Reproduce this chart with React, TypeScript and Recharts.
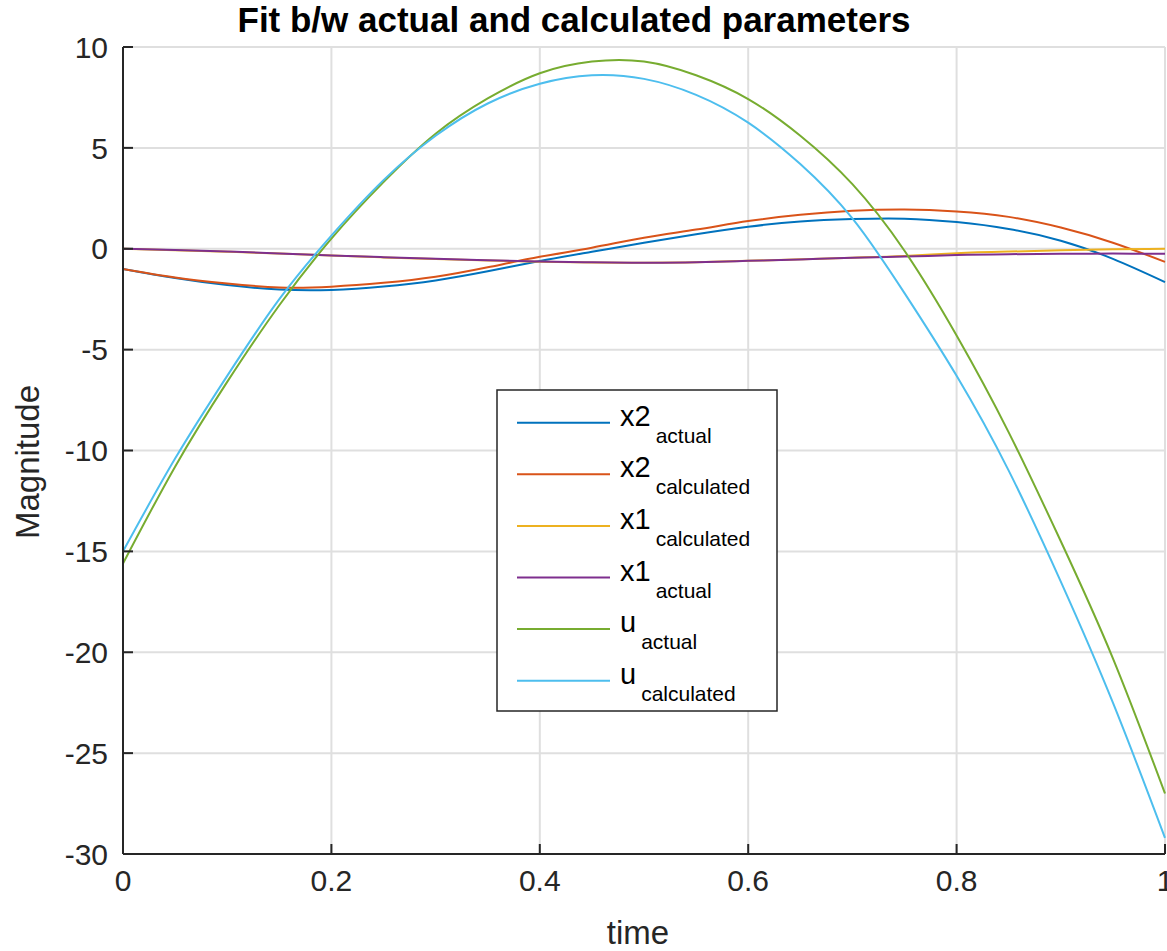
import React from 'react';
import { LineChart, Line, XAxis, YAxis, CartesianGrid } from 'recharts';

const time = [0, 0.05, 0.1, 0.15, 0.2, 0.25, 0.3, 0.35, 0.4, 0.45, 0.5, 0.55, 0.6, 0.65, 0.7, 0.75, 0.8, 0.85, 0.9, 0.95, 1];

const x2Actual = [-1.0, -1.45, -1.8, -2.02, -2.04, -1.87, -1.57, -1.12, -0.61, -0.15, 0.3, 0.72, 1.09, 1.35, 1.47, 1.49, 1.32, 0.98, 0.4, -0.5, -1.65];
const x2Calculated = [-1.0, -1.42, -1.72, -1.92, -1.88, -1.69, -1.39, -0.92, -0.4, 0.05, 0.55, 0.95, 1.37, 1.68, 1.88, 1.95, 1.85, 1.58, 1.05, 0.3, -0.65];
const x1Calculated = [0, -0.07, -0.15, -0.24, -0.34, -0.43, -0.51, -0.58, -0.64, -0.68, -0.69, -0.67, -0.6, -0.52, -0.44, -0.36, -0.22, -0.14, -0.08, -0.03, 0.0];
const x1Actual = [0, -0.06, -0.14, -0.23, -0.33, -0.42, -0.5, -0.57, -0.63, -0.67, -0.69, -0.67, -0.6, -0.53, -0.45, -0.39, -0.31, -0.27, -0.25, -0.24, -0.25];
const uActual = [-15.6, -10.8, -6.6, -2.8, 0.5, 3.3, 5.7, 7.45, 8.7, 9.28, 9.28, 8.6, 7.42, 5.6, 3.2, -0.1, -4.3, -9.1, -14.5, -20.3, -27.0];
const uCalculated = [-15.0, -10.4, -6.3, -2.5, 0.65, 3.4, 5.6, 7.2, 8.18, 8.6, 8.42, 7.63, 6.25, 4.2, 1.5, -2.2, -6.3, -11.0, -16.5, -22.5, -29.2];

const xTicks = [0, 0.2, 0.4, 0.6, 0.8, 1];
const yTicks = [-30, -25, -20, -15, -10, -5, 0, 5, 10];

const series = [
  { key: 'x2Actual', base: 'x2', sub: 'actual', color: '#0072BD', values: x2Actual },
  { key: 'x2Calculated', base: 'x2', sub: 'calculated', color: '#D95319', values: x2Calculated },
  { key: 'x1Calculated', base: 'x1', sub: 'calculated', color: '#EDB120', values: x1Calculated },
  { key: 'x1Actual', base: 'x1', sub: 'actual', color: '#7E2F8E', values: x1Actual },
  { key: 'uActual', base: 'u', sub: 'actual', color: '#77AC30', values: uActual },
  { key: 'uCalculated', base: 'u', sub: 'calculated', color: '#4DBEEE', values: uCalculated },
];

const data = time.map((t, i) => {
  const row: Record<string, number> = { t };
  series.forEach((s) => {
    row[s.key] = s.values[i];
  });
  return row;
});

const FONT = '"Liberation Sans", Arial, Helvetica, sans-serif';
const AXIS = '#262626';

export default function App() {
  const tickStyle = { fontSize: 30, fill: AXIS, fontFamily: FONT };
  return (
    <div style={{ position: 'relative', width: 1167, height: 951, background: '#fff', fontFamily: FONT }}>
      <style>{'body{margin:0;overflow:hidden}'}</style>
      <LineChart width={1167} height={951} data={data} margin={{ top: 47, right: 2, left: 0, bottom: 0 }}>
        <CartesianGrid stroke="#dfdfdf" strokeWidth={2} />
        <XAxis
          dataKey="t"
          type="number"
          domain={[0, 1]}
          ticks={xTicks}
          interval={0}
          height={97}
          tick={tickStyle}
          tickSize={-10}
          tickMargin={26}
          stroke={AXIS}
          strokeWidth={2}
        />
        <XAxis
          xAxisId="top"
          orientation="top"
          type="number"
          domain={[0, 1]}
          ticks={xTicks}
          interval={0}
          height={0}
          tick={false}
          tickSize={-10}
          stroke={AXIS}
          strokeWidth={2}
          allowDataOverflow
        />
        <YAxis
          type="number"
          domain={[-30, 10]}
          ticks={yTicks}
          interval={0}
          width={123}
          tick={tickStyle}
          tickSize={-10}
          tickMargin={25}
          stroke={AXIS}
          strokeWidth={2}
        />
        <YAxis
          yAxisId="right"
          orientation="right"
          type="number"
          domain={[-30, 10]}
          ticks={yTicks}
          interval={0}
          width={0}
          tick={false}
          tickSize={-10}
          stroke={AXIS}
          strokeWidth={2}
          allowDataOverflow
        />
        {series.map((s) => (
          <Line
            key={s.key}
            type="natural"
            dataKey={s.key}
            stroke={s.color}
            strokeWidth={2}
            dot={false}
            isAnimationActive={false}
          />
        ))}
      </LineChart>

      <svg
        width={1167}
        height={951}
        style={{ position: 'absolute', left: 0, top: 0, pointerEvents: 'none' }}
        fontFamily={FONT}
      >
        <text x={574} y={32} textAnchor="middle" fontSize={35} fontWeight="bold" fill="#000">
          Fit b/w actual and calculated parameters
        </text>
        <text x={638} y={944} textAnchor="middle" fontSize={33} fill={AXIS}>
          time
        </text>
        <text transform="translate(39,462) rotate(-90)" textAnchor="middle" fontSize={33} fill={AXIS}>
          Magnitude
        </text>

        {/* legend */}
        <rect x={497} y={390} width={280} height={321} fill="#fff" stroke={AXIS} strokeWidth={1.5} />
        {series.map((s, i) => {
          const cy = 422.7 + i * 51.6;
          return (
            <g key={s.key}>
              <line x1={517} x2={610} y1={cy} y2={cy} stroke={s.color} strokeWidth={2} />
              <text x={620} y={cy + 3} fontSize={29} fill="#000">
                {s.base}
                <tspan dx={5} dy={17} fontSize={21}>
                  {s.sub}
                </tspan>
              </text>
            </g>
          );
        })}
      </svg>
    </div>
  );
}
